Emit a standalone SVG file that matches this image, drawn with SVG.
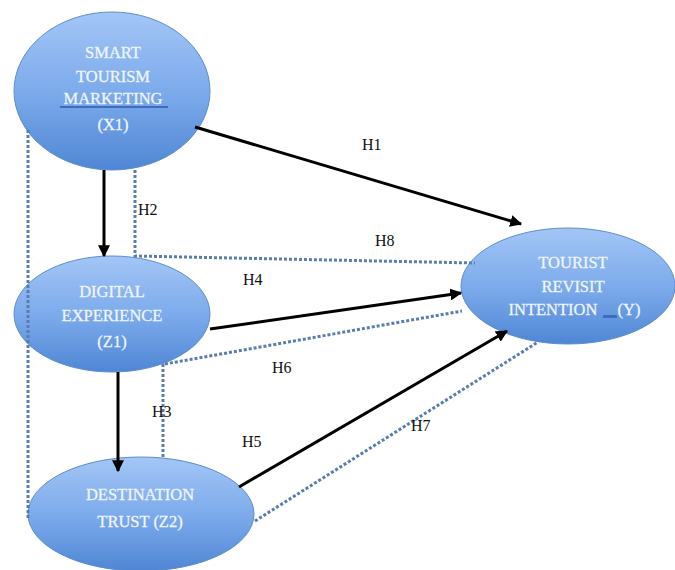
<svg xmlns="http://www.w3.org/2000/svg" width="675" height="570" viewBox="0 0 675 570">
<defs>
<linearGradient id="g" x1="0" y1="0" x2="0" y2="1">
<stop offset="0" stop-color="#a3c6f6"/>
<stop offset="0.55" stop-color="#79a8ea"/>
<stop offset="1" stop-color="#4f86d4"/>
</linearGradient>
<marker id="ah" viewBox="0 0 10 10" refX="9" refY="5" markerWidth="4" markerHeight="4" markerUnits="strokeWidth" orient="auto">
<path d="M0,0 L10,5 L0,10 z" fill="#000"/>
</marker>
<style>
.node ellipse{fill:url(#g);stroke:#5d8dcc;stroke-width:1}
.nt{font-family:"Liberation Serif",serif;font-size:16.5px;fill:#f4f8ff;text-anchor:middle;stroke:#e8f0ff;stroke-width:0.3}
.solid{stroke:#000;stroke-width:3;fill:none;marker-end:url(#ah)}
.dot{stroke:#5a7cb0;stroke-width:3;fill:none;stroke-dasharray:3 2}
.lbl{font-family:"Liberation Serif",serif;font-size:16px;fill:#111}
</style>
</defs>
<rect width="675" height="570" fill="#fff"/>
<g id="X1" class="node">
<ellipse cx="112" cy="91" rx="98" ry="79"/>
<text class="nt" x="113" y="58">SMART</text>
<text class="nt" x="113" y="82">TOURISM</text>
<text class="nt" x="113" y="104">MARKETING</text>
<rect x="60" y="106" width="108" height="2" fill="#3f6cc0"/>
<text class="nt" x="113" y="130">(X1)</text>
</g>
<g id="Z1" class="node">
<ellipse cx="112" cy="314" rx="98" ry="58"/>
<text class="nt" x="112" y="297">DIGITAL</text>
<text class="nt" x="112" y="321">EXPERIENCE</text>
<text class="nt" x="112" y="347">(Z1)</text>
</g>
<g id="Z2" class="node">
<ellipse cx="141" cy="514" rx="113" ry="57"/>
<text class="nt" x="140" y="500">DESTINATION</text>
<text class="nt" x="140" y="527">TRUST (Z2)</text>
</g>
<g id="Y" class="node">
<ellipse cx="568" cy="286" rx="107" ry="58"/>
<text class="nt" x="573" y="268">TOURIST</text>
<text class="nt" x="573" y="292">REVISIT</text>
<text class="nt" x="553" y="315">INTENTION</text>
<rect x="603" y="315" width="14" height="3" fill="#3f6cc0"/>
<text class="nt" x="629" y="315">(Y)</text>
</g>
<g id="connectors">
<line class="solid" x1="195" y1="127" x2="521" y2="224"/>
<line class="solid" x1="104" y1="170" x2="104" y2="256"/>
<polyline class="dot" points="135,170 135,256 475,263"/>
<polyline class="dot" points="28,130 28,520"/>
<line class="solid" x1="210" y1="329" x2="461" y2="293"/>
<line class="dot" x1="165" y1="364" x2="462" y2="311"/>
<polyline class="dot" points="163,364 163,459"/>
<line class="solid" x1="118" y1="372" x2="118" y2="471"/>
<line class="solid" x1="239" y1="487" x2="507" y2="331"/>
<line class="dot" x1="255" y1="521" x2="538" y2="342"/>
<text class="lbl" x="362" y="150">H1</text>
<text class="lbl" x="138" y="215">H2</text>
<text class="lbl" x="375" y="246">H8</text>
<text class="lbl" x="243" y="285">H4</text>
<text class="lbl" x="272" y="373">H6</text>
<text class="lbl" x="152" y="417">H3</text>
<text class="lbl" x="242" y="447">H5</text>
<text class="lbl" x="411" y="431">H7</text>
</g>
</svg>
